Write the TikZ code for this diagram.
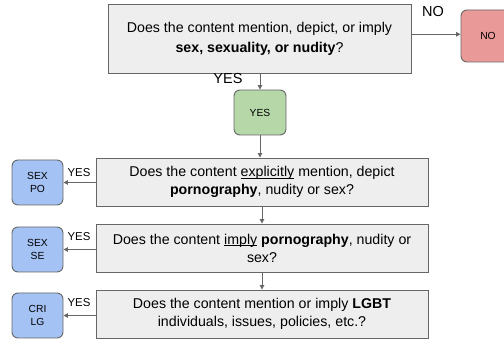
\documentclass[tikz,border=0pt]{standalone}
\usepackage{fontspec}
\setmainfont{Liberation Sans}
\usetikzlibrary{arrows.meta}
\definecolor{boxfill}{HTML}{EEEEEE}
\definecolor{edgegrey}{HTML}{666666}
\definecolor{nofill}{HTML}{EA9999}
\definecolor{yesfill}{HTML}{B6D7A8}
\definecolor{catfill}{HTML}{A4C2F4}
% underline drawn just below the baseline, through the descenders
\newsavebox{\ulwordbox}
\newcommand{\ulword}[1]{\sbox{\ulwordbox}{#1}\rlap{\rule[-1.9pt]{\wd\ulwordbox}{0.8pt}}\usebox{\ulwordbox}}
\begin{document}
\begin{tikzpicture}[x=1pt,y=-1pt,
  question/.style={draw=edgegrey, fill=boxfill, line width=0.9pt, align=center,
    inner sep=0pt, font=\fontsize{14.2}{18}\selectfont},
  outcome/.style={draw=edgegrey, line width=0.9pt, rounded corners=6pt, align=center,
    inner sep=0pt, font=\fontsize{10.3}{12.5}\selectfont},
  flow/.style={draw=edgegrey, line width=0.9pt, -{Triangle[length=4.5pt,width=4.5pt]}},
  biglabel/.style={font=\fontsize{14.5}{16}\selectfont},
  smalllabel/.style={font=\fontsize{11.4}{13}\selectfont}]
\clip (0,0) rectangle (504,339);

% main question and its two outcomes
\node[question, minimum width=303pt, minimum height=69pt,
  font=\fontsize{14.2}{20}\selectfont] (q1) at (259.5,38.5)
  {Does the content mention, depict, or imply\\\textbf{sex, sexuality, or nudity}?};
\node[outcome, fill=nofill, minimum width=54pt, minimum height=52pt] (no) at (488,36) {NO};
\node[outcome, fill=yesfill, minimum width=52pt, minimum height=45pt] (yes) at (260,112.5) {YES};

% follow-up questions
\node[question, minimum width=332pt, minimum height=48pt] (q2) at (262,182)
  {Does the content \ulword{explicitly} mention, depict\\\textbf{pornography}, nudity or sex?};
\node[question, minimum width=332pt, minimum height=48pt] (q3) at (262,248)
  {Does the content \ulword{imply} \textbf{pornography}, nudity or\\sex?};
\node[question, minimum width=332pt, minimum height=48pt] (q4) at (262,314)
  {Does the content mention or imply \textbf{LGBT}\\individuals, issues, policies, etc.?};

% category boxes
\node[outcome, fill=catfill, minimum width=51pt, minimum height=45pt] (c1) at (37.5,182.5) {SEX\\PO};
\node[outcome, fill=catfill, minimum width=51pt, minimum height=45pt] (c2) at (37.5,249.5) {SEX\\SE};
\node[outcome, fill=catfill, minimum width=51pt, minimum height=45pt] (c3) at (37.5,315.5) {CRI\\LG};

% connectors
\coordinate (noin) at (461,34.3);
\draw[flow] (q1.east |- noin) -- (no.west |- noin);
\draw[flow] (q1.south -| yes.north) -- (yes.north);
\draw[flow] (yes.south) -- (q2.north -| yes.south);
\draw[flow] (q2.south) -- (q3.north);
\draw[flow] (q3.south) -- (q4.north);
\draw[flow] (q2.west |- c1.east) -- (c1.east);
\draw[flow] (q3.west |- c2.east) -- (c2.east);
\draw[flow] (q4.west |- c3.east) -- (c3.east);

% branch labels
\node[biglabel] (lno) at (433,12) {NO};
\node[biglabel] (lyes) at (228,79) {YES};
\node[smalllabel] (y1) at (79,173) {YES};
\node[smalllabel] (y2) at (79,237) {YES};
\node[smalllabel] (y3) at (79,303) {YES};
\end{tikzpicture}
\end{document}
